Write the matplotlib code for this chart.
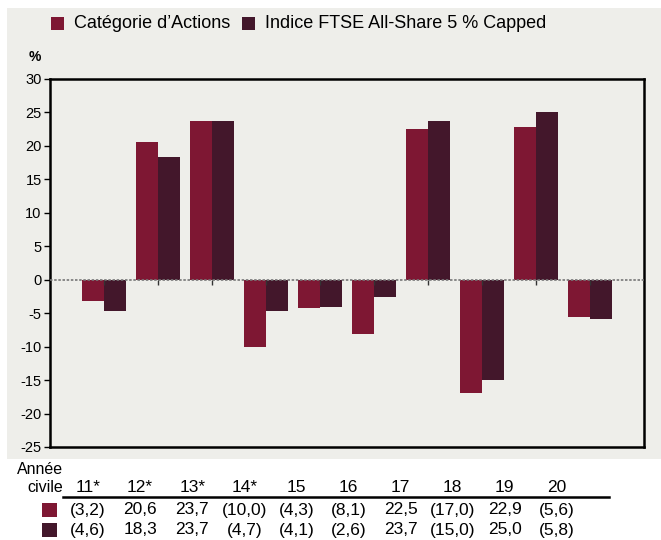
import matplotlib
matplotlib.use("Agg")
import matplotlib.pyplot as plt
from matplotlib.patches import Rectangle
from matplotlib.lines import Line2D

plt.rcParams['font.family'] = ['Liberation Sans Narrow', 'Liberation Sans', 'DejaVu Sans']
plt.rcParams['axes.unicode_minus'] = False

years = ["11*", "12*", "13*", "14*", "15", "16", "17", "18", "19", "20"]
fund = [-3.2, 20.6, 23.7, -10.0, -4.3, -8.1, 22.5, -17.0, 22.9, -5.6]
index = [-4.6, 18.3, 23.7, -4.7, -4.1, -2.6, 23.7, -15.0, 25.0, -5.8]
series_names = ["Catégorie d\u2019Actions", "Indice FTSE All-Share 5 % Capped"]

c_fund = "#7e1733"
c_index = "#43172b"
bg = "#eeeeea"

W, H = 661, 540
fig = plt.figure(figsize=(W / 100, H / 100), dpi=100, facecolor="white")

def fx(px):
    return px / W

def fy(py):
    return 1 - py / H

# grey panel behind chart
fig.patches.append(Rectangle((fx(7), fy(459)), 1 - fx(7), fy(8) - fy(459),
                             transform=fig.transFigure, facecolor=bg,
                             edgecolor="none", zorder=-10))

ax = fig.add_axes([fx(50), fy(447), fx(644) - fx(50), fy(79) - fy(447)])
ax.set_facecolor(bg)

pos = list(range(1, len(years) + 1))
w = 0.4
ax.bar([p - w / 2 for p in pos], fund, width=w, color=c_fund, zorder=2)
ax.bar([p + w / 2 for p in pos], index, width=w, color=c_index, zorder=2)

ax.axhline(0, color="#777777", lw=1.2, ls=(0, (1.5, 1)), zorder=3)
ax.vlines(pos, -0.8, 0, color="#333333", lw=1, zorder=3)

ax.set_xlim(0, 11)
ax.set_ylim(-25, 30)
ax.set_yticks(range(-25, 31, 5))
ax.set_xticks([])
ax.tick_params(axis="y", labelsize=10.5, length=4, width=1, pad=2)
for s in ax.spines.values():
    s.set_linewidth(1.8)
    s.set_color("black")

fig.text(fx(35), fy(57), "%", fontsize=10, fontweight="bold", ha="center", va="center")

# legend
for i, (name, col) in enumerate(zip(series_names, [c_fund, c_index])):
    x0 = [51, 242][i]
    fig.patches.append(Rectangle((fx(x0), fy(30)), fx(13), fy(17) - fy(30),
                                 transform=fig.transFigure, facecolor=col,
                                 edgecolor="none"))
    fig.text(fx(x0 + 23), fy(23), name, fontsize=13, ha="left", va="center")

# table below the chart
fig.text(fx(63), fy(470), "Année", fontsize=11.5, ha="right", va="center")
fig.text(fx(63), fy(488), "civile", fontsize=11.5, ha="right", va="center")
fig.lines.append(Line2D([fx(63), fx(609)], [fy(497), fy(497)],
                        transform=fig.transFigure, color="black", lw=1.8))

def fmt(v):
    s = ("%.1f" % abs(v)).replace(".", ",")
    return "(%s)" % s if v < 0 else s

for i, yr in enumerate(years):
    cx = fx(88 + 52.1 * i)
    fig.text(cx, fy(487), yr, fontsize=12.5, ha="center", va="center")
    fig.text(cx, fy(510), fmt(fund[i]), fontsize=12.5, ha="center", va="center")
    fig.text(cx, fy(530), fmt(index[i]), fontsize=12.5, ha="center", va="center")

for row_y, col in [(510, c_fund), (530, c_index)]:
    fig.patches.append(Rectangle((fx(42), fy(row_y + 7)), fx(15), fy(row_y - 7) - fy(row_y + 7),
                                 transform=fig.transFigure, facecolor=col,
                                 edgecolor="none"))

fig.savefig("out.png", dpi=100, facecolor="white")
